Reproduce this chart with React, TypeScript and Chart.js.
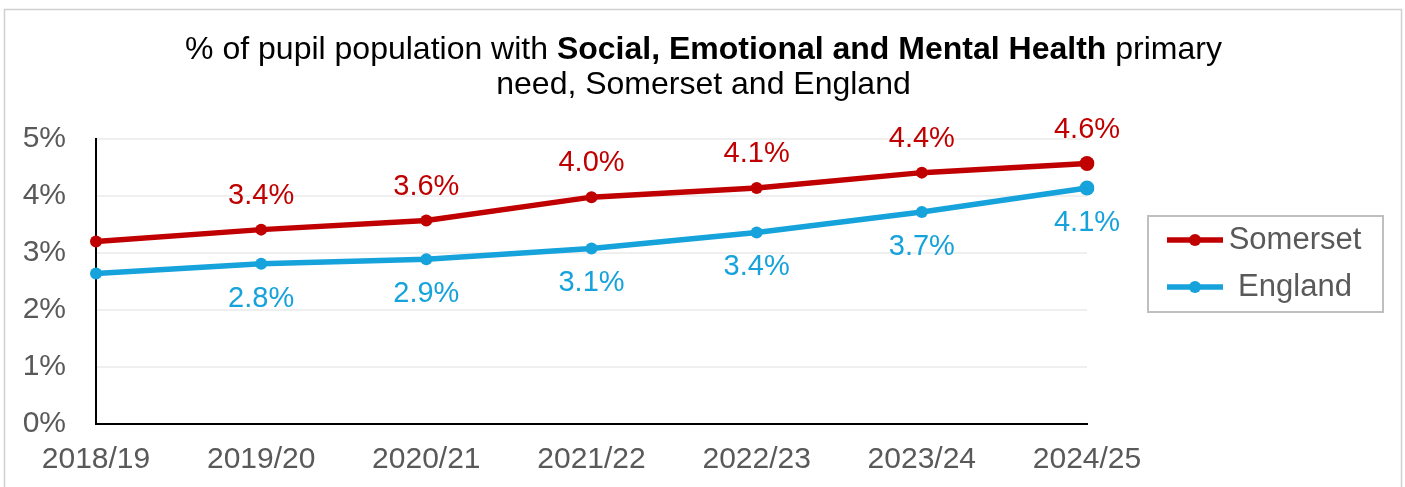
import React, { useEffect, useRef } from "react";
import { Chart, registerables } from "chart.js";

Chart.register(...registerables);

const categories = ["2018/19", "2019/20", "2020/21", "2021/22", "2022/23", "2023/24", "2024/25"];
const somerset = [3.2, 3.41, 3.57, 3.98, 4.14, 4.41, 4.57];
const england = [2.64, 2.81, 2.89, 3.08, 3.36, 3.72, 4.14];
const seriesNames = ["Somerset", "England"];
const yTicks = [0, 1, 2, 3, 4, 5];
const titleLine1 = ["% of pupil population with ", "Social, Emotional and Mental Health", " primary"];
const titleLine2 = "need, Somerset and England";

const RED = "#C00000";
const BLUE = "#16A2DB";
const FONT = "'Liberation Sans', Arial, sans-serif";
const GREY_TEXT = "#595959";

export default function App() {
  const ref = useRef<HTMLCanvasElement | null>(null);

  useEffect(() => {
    const canvas = ref.current;
    if (!canvas) return;

    const framePlugin = {
      id: "frame",
      beforeDraw(chart: any) {
        const ctx = chart.ctx;
        ctx.save();
        ctx.fillStyle = "#ffffff";
        ctx.fillRect(0, 0, chart.width, chart.height);
        ctx.strokeStyle = "#d0d0d0";
        ctx.lineWidth = 1.5;
        ctx.strokeRect(4.5, 9.5, 1397, 600);
        ctx.restore();
      },
    };

    const titlePlugin = {
      id: "mixedTitle",
      afterDraw(chart: any) {
        const ctx = chart.ctx;
        ctx.save();
        ctx.fillStyle = "#000000";
        ctx.textBaseline = "middle";
        ctx.textAlign = "left";
        const fonts = [`32px ${FONT}`, `bold 32px ${FONT}`, `32px ${FONT}`];
        let total = 0;
        const widths = titleLine1.map((t, i) => {
          ctx.font = fonts[i];
          const w = ctx.measureText(t).width;
          total += w;
          return w;
        });
        let x = 703.5 - total / 2;
        titleLine1.forEach((t, i) => {
          ctx.font = fonts[i];
          ctx.fillText(t, x, 50);
          x += widths[i];
        });
        ctx.font = `32px ${FONT}`;
        ctx.textAlign = "center";
        ctx.fillText(titleLine2, 703.5, 85);
        ctx.restore();
      },
    };

    const labelPlugin = {
      id: "pointLabels",
      afterDatasetsDraw(chart: any) {
        const ctx = chart.ctx;
        ctx.save();
        ctx.font = `29px ${FONT}`;
        ctx.textAlign = "center";
        ctx.textBaseline = "middle";
        chart.data.datasets.forEach((ds: any, di: number) => {
          const meta = chart.getDatasetMeta(di);
          ctx.fillStyle = ds.borderColor;
          meta.data.forEach((pt: any, i: number) => {
            if (i === 0) return;
            const v = ds.data[i] as number;
            const dy = di === 0 ? -34 : 35;
            ctx.fillText(v.toFixed(1) + "%", pt.x, pt.y + dy);
          });
        });
        ctx.restore();
      },
    };

    const legendPlugin = {
      id: "customLegend",
      afterDraw(chart: any) {
        const ctx = chart.ctx;
        ctx.save();
        ctx.strokeStyle = "#bfbfbf";
        ctx.lineWidth = 2;
        ctx.strokeRect(1148, 216, 235, 96);
        const rows = [240, 287];
        ctx.font = `31px ${FONT}`;
        ctx.textBaseline = "middle";
        ctx.textAlign = "center";
        chart.data.datasets.forEach((ds: any, i: number) => {
          const y = rows[i];
          ctx.strokeStyle = ds.borderColor;
          ctx.lineWidth = 5.5;
          ctx.lineCap = "butt";
          ctx.beginPath();
          ctx.moveTo(1167, y);
          ctx.lineTo(1223, y);
          ctx.stroke();
          ctx.fillStyle = ds.borderColor;
          ctx.beginPath();
          ctx.arc(1195, y, 6, 0, Math.PI * 2);
          ctx.fill();
          ctx.fillStyle = GREY_TEXT;
          ctx.fillText(ds.label, 1295, y);
        });
        ctx.restore();
      },
    };

    const radius = (c: any) => (c.dataIndex === categories.length - 1 ? 7.5 : 6);

    const chart = new Chart(canvas, {
      type: "line",
      data: {
        labels: categories,
        datasets: [
          {
            label: seriesNames[0],
            data: somerset,
            borderColor: RED,
            backgroundColor: RED,
            borderWidth: 5.5,
            pointRadius: radius,
            pointBackgroundColor: RED,
            pointBorderWidth: 0,
            tension: 0,
          },
          {
            label: seriesNames[1],
            data: england,
            borderColor: BLUE,
            backgroundColor: BLUE,
            borderWidth: 5.5,
            pointRadius: radius,
            pointBackgroundColor: BLUE,
            pointBorderWidth: 0,
            tension: 0,
          },
        ],
      },
      options: {
        responsive: false,
        animation: false,
        devicePixelRatio: 1,
        layout: { padding: { top: 139, right: 318, bottom: 0, left: 0 } },
        plugins: {
          legend: { display: false },
          title: { display: false },
          tooltip: { enabled: false },
        },
        scales: {
          x: {
            offset: false,
            grid: { display: false, drawTicks: false },
            border: { display: true, color: "#000000", width: 2 },
            ticks: {
              color: GREY_TEXT,
              font: { family: FONT, size: 30 },
              padding: 18,
              maxRotation: 0,
              autoSkip: false,
            },
            afterFit(scale: any) {
              scale.height = 63;
            },
          },
          y: {
            min: 0,
            max: 5,
            afterBuildTicks(scale: any) {
              scale.ticks = yTicks.map((v) => ({ value: v }));
            },
            grid: { color: "#efefef", lineWidth: 2, drawTicks: false },
            border: { display: true, color: "#000000", width: 2 },
            ticks: {
              color: GREY_TEXT,
              font: { family: FONT, size: 30 },
              padding: 30,
              callback: (v: any) => v + "%",
            },
            afterFit(scale: any) {
              scale.width = 96;
            },
          },
        },
      },
      plugins: [framePlugin, titlePlugin, labelPlugin, legendPlugin],
    });

    return () => chart.destroy();
  }, []);

  return (
    <div style={{ position: "absolute", left: 0, top: 0, width: 1405, height: 487 }}>
      <canvas ref={ref} width={1405} height={487} style={{ width: 1405, height: 487, display: "block" }} />
    </div>
  );
}
